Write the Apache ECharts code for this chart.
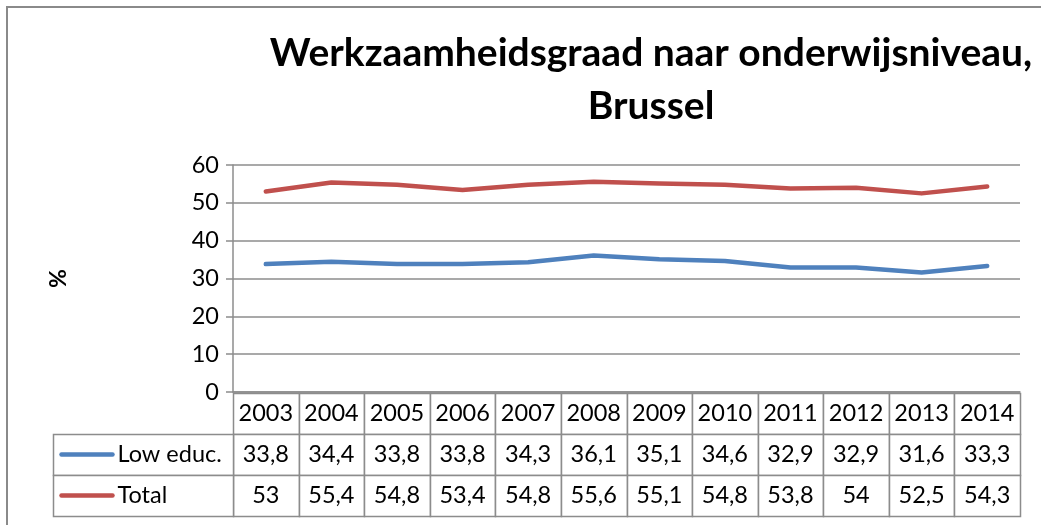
<!DOCTYPE html>
<html>
<head>
<meta charset="utf-8">
<script src="https://cdn.jsdelivr.net/npm/echarts@6/dist/echarts.min.js"></script>
<style>
html,body{margin:0;padding:0;background:#fff;}
#chart{width:1041px;height:525px;}
</style>
</head>
<body>
<div id="chart"></div>
<script>
var years = ['2003','2004','2005','2006','2007','2008','2009','2010','2011','2012','2013','2014'];
var lowEduc = [33.8,34.4,33.8,33.8,34.3,36.1,35.1,34.6,32.9,32.9,31.6,33.3];
var total = [53,55.4,54.8,53.4,54.8,55.6,55.1,54.8,53.8,54,52.5,54.3];
var seriesNames = ['Low educ.','Total'];
var seriesColors = ['#4F81BD','#C0504D'];
var yTicks = [0,10,20,30,40,50,60];

var FONT = 'Lato';
var GRID = '#8c8c8c';
var TFS = 23.5;
function fmt(v){ return String(v).replace('.', ','); }
var tableRows = [years, lowEduc.map(fmt), total.map(fmt)];

var cellData = [];
for (var r = 0; r < 3; r++) {
  for (var c = 0; c < years.length; c++) cellData.push([c, r, 0]);
}
cellData.push([0, 1, 1]);
cellData.push([0, 2, 1]);

var LABEL_W = 180;

function renderCell(params, api) {
  var c = api.value(0), r = api.value(1), flag = api.value(2);
  var pt = api.coord([c, r]);
  var sz = api.size([1, 1]);
  var w = sz[0], h = sz[1];
  var x0 = pt[0] - w / 2, y0 = pt[1] - h / 2;
  if (flag === 1) {
    var lx = Math.round(x0 - LABEL_W) + 0.5;
    var rx = Math.round(x0) + 0.5;
    var ty = Math.round(y0) + 0.5, by = Math.round(y0 + h) + 0.5;
    return {
      type: 'group',
      children: [
        {type:'rect', shape:{x:lx, y:ty, width:rx-lx, height:by-ty}, style:{fill:'#fff', stroke:GRID, lineWidth:1.5}},
        {type:'line', shape:{x1:lx+8, y1:pt[1], x2:lx+59, y2:pt[1]}, style:{stroke:seriesColors[r-1], lineWidth:4.5, lineCap:'round'}},
        {type:'text', style:{text:seriesNames[r-1], x:lx+64, y:pt[1], align:'left', verticalAlign:'middle', fontFamily:FONT, fontSize:TFS, fill:'#000'}}
      ]
    };
  }
  var lx2 = Math.round(x0) + 0.5, rx2 = Math.round(x0 + w) + 0.5;
  var ty2 = Math.round(y0) + 0.5, by2 = Math.round(y0 + h) + 0.5;
  return {
    type: 'group',
    children: [
      {type:'rect', shape:{x:lx2, y:ty2, width:rx2-lx2, height:by2-ty2}, style:{fill:'#fff', stroke:GRID, lineWidth:1.5}},
      {type:'text', style:{text:tableRows[r][c], x:pt[0], y:pt[1], align:'center', verticalAlign:'middle', fontFamily:FONT, fontSize:TFS, fill:'#000'}}
    ]
  };
}

var chart = echarts.init(document.getElementById('chart'), null, {renderer:'canvas'});
chart.setOption({
  animation: false,
  backgroundColor: '#fff',
  title: {
    text: 'Werkzaamheidsgraad naar onderwijsniveau,\nBrussel',
    left: 646, top: 22, textAlign: 'center',
    textStyle: {fontFamily: FONT, fontWeight: 'bold', fontSize: 39, lineHeight: 53, color: '#000'}
  },
  graphic: [
    {type:'rect', shape:{x:7, y:7, width:1200, height:700}, style:{fill:'none', stroke:'#8a8a8a', lineWidth:2}, silent:true, z:-1}
  ],
  grid: [
    {left: 233, right: 21, top: 165, bottom: 133},
    {left: 233, right: 21, top: 393, height: 123}
  ],
  xAxis: [
    {type:'category', data: years, gridIndex:0, boundaryGap:true,
     axisLine:{show:true, lineStyle:{color:GRID, width:1.5}}, axisTick:{show:false}, axisLabel:{show:false}, splitLine:{show:false}},
    {type:'category', data: years, gridIndex:1, show:false}
  ],
  yAxis: [
    {type:'value', gridIndex:0, min: yTicks[0], max: yTicks[yTicks.length-1], interval: 10,
     name: '%', nameLocation: 'middle', nameGap: 163, nameRotate: 90,
     nameTextStyle: {fontFamily: FONT, fontWeight: 'bold', fontSize: 23, color: '#000'},
     axisLine:{show:true, lineStyle:{color:GRID, width:1.5}},
     axisTick:{show:true, length:7, lineStyle:{color:GRID, width:1.5}},
     axisLabel:{fontFamily: FONT, fontSize: TFS, color:'#000', margin: 14},
     splitLine:{show:true, lineStyle:{color:GRID, width:1.5}}},
    {type:'category', gridIndex:1, data:['', seriesNames[0], seriesNames[1]], inverse:true, show:false}
  ],
  series: [
    {name: seriesNames[0], type:'line', data: lowEduc, xAxisIndex:0, yAxisIndex:0, showSymbol:false, symbol:'none',
     lineStyle:{color: seriesColors[0], width: 4.5, cap:'round', join:'round'}, itemStyle:{color: seriesColors[0]}},
    {name: seriesNames[1], type:'line', data: total, xAxisIndex:0, yAxisIndex:0, showSymbol:false, symbol:'none',
     lineStyle:{color: seriesColors[1], width: 4.5, cap:'round', join:'round'}, itemStyle:{color: seriesColors[1]}},
    {type:'custom', xAxisIndex:1, yAxisIndex:1, data: cellData, renderItem: renderCell, clip:false, silent:true}
  ]
});
</script>
</body>
</html>
